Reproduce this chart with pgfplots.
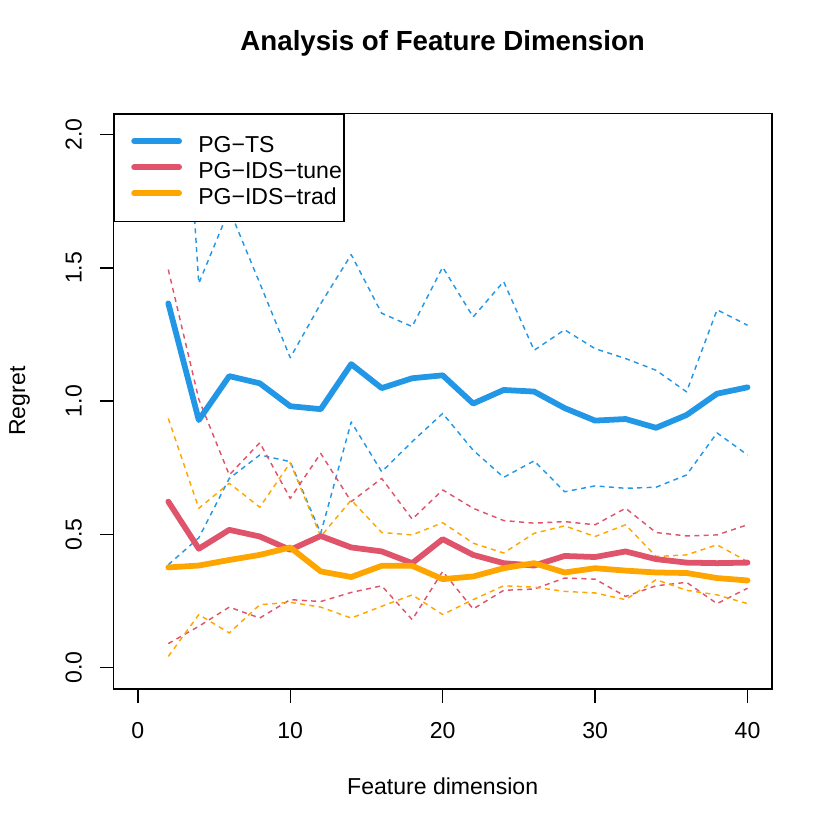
\documentclass[border=0pt]{standalone}
\usepackage{fontspec}
\setmainfont{Liberation Sans}
\usepackage{pgfplots}
\usepackage{pgfplotstable}
\pgfplotsset{compat=1.18}
\definecolor{cts}{HTML}{2297E6}
\definecolor{ctune}{HTML}{DF536B}
\definecolor{ctrad}{HTML}{FFA500}
\newcommand{\lgs}{\rule[-2.4bp]{0pt}{13.4bp}}
\pgfplotstableread{
x ts tsl tsu tune tunel tuneu trad tradl tradu
2 1.367 0.386 3.20 0.623 0.090 1.494 0.376 0.042 0.935
4 0.929 0.487 1.442 0.446 0.155 1.007 0.383 0.199 0.598
6 1.094 0.710 1.72 0.517 0.227 0.723 0.404 0.130 0.692
8 1.067 0.798 1.443 0.492 0.186 0.844 0.423 0.236 0.602
10 0.981 0.773 1.163 0.442 0.255 0.635 0.451 0.245 0.769
12 0.970 0.504 1.366 0.494 0.248 0.804 0.361 0.227 0.492
14 1.139 0.922 1.550 0.451 0.282 0.623 0.340 0.186 0.629
16 1.049 0.735 1.330 0.436 0.307 0.710 0.382 0.230 0.507
18 1.086 0.848 1.280 0.392 0.180 0.557 0.382 0.273 0.498
20 1.097 0.954 1.503 0.482 0.361 0.667 0.332 0.199 0.544
22 0.991 0.816 1.316 0.423 0.220 0.598 0.342 0.255 0.467
24 1.042 0.714 1.449 0.392 0.290 0.552 0.373 0.307 0.430
26 1.036 0.776 1.191 0.383 0.295 0.542 0.392 0.302 0.504
28 0.974 0.660 1.268 0.419 0.336 0.548 0.357 0.286 0.532
30 0.927 0.682 1.197 0.415 0.332 0.536 0.373 0.280 0.492
32 0.933 0.673 1.160 0.436 0.267 0.598 0.364 0.255 0.536
34 0.900 0.677 1.116 0.407 0.307 0.507 0.357 0.330 0.417
36 0.948 0.723 1.035 0.394 0.320 0.494 0.355 0.290 0.423
38 1.028 0.881 1.343 0.392 0.240 0.498 0.336 0.273 0.461
40 1.052 0.798 1.285 0.394 0.298 0.536 0.327 0.240 0.398
}\data
\begin{document}
\fontsize{12bp}{14.4bp}\selectfont
\begin{tikzpicture}
\useasboundingbox (0,0) rectangle (432bp,432bp);
\begin{axis}[
  at={(59.04bp,73.44bp)}, anchor=south west,
  scale only axis, width=342.72bp, height=299.52bp,
  xmin=-1.6, xmax=41.6, ymin=-0.08, ymax=2.08,
  xtick={0,10,20,30,40}, xticklabels={0,10,20,30,40},
  ytick={0,0.5,1,1.5,2}, yticklabels={0.0,0.5,1.0,1.5,2.0},
  xtick pos=bottom, ytick pos=left,
  tick align=outside, major tick length=7.2bp,
  every tick/.style={black, line width=0.75bp},
  axis line style={line width=0.75bp},
  tick label style={font=\fontsize{12bp}{14.4bp}\selectfont, inner sep=0pt},
  xticklabel style={anchor=base, yshift=-18.5bp},
  yticklabel style={xshift=-9.3bp, rotate=90, anchor=base},
  title={Analysis of Feature Dimension},
  title style={at={(axis description cs:0.5,1)}, anchor=base, yshift=26.9bp, inner sep=0pt, font=\bfseries\fontsize{14.4bp}{17bp}\selectfont},
  xlabel={Feature dimension},
  xlabel style={at={(axis description cs:0.5,0)}, anchor=base, yshift=-55.2bp, inner sep=0pt, font=\fontsize{12bp}{14.4bp}\selectfont},
  ylabel={Regret},
  ylabel style={at={(axis description cs:-0.13422,0.5)}, rotate=0, anchor=base, inner sep=0pt, font=\fontsize{12bp}{14.4bp}\selectfont},
  legend style={at={(axis description cs:0,1)}, anchor=north west, draw=black, line width=0.75bp, fill=white,
    inner xsep=1.2bp, inner ysep=7.0bp, row sep=-1.5bp, font=\fontsize{12bp}{14.4bp}\selectfont,
    nodes={inner sep=0pt}},
  legend cell align=left,
  legend image code/.code={\path[draw=none, fill=none] (0bp,0bp) rectangle (42.6bp,8.6bp); \draw[#1, line width=3bp] (9.2bp,1.5bp) -- (32.6bp,1.5bp);},
  dd/.style={line width=0.75bp, dash pattern=on 2.6bp off 2.3bp, line join=round, forget plot},
  mm/.style={line width=3bp, line cap=round, line join=round},
]
\addplot[cts, dd] table[x=x, y=tsl] {\data};
\addplot[cts, dd] table[x=x, y=tsu] {\data};
\addplot[ctune, dd] table[x=x, y=tunel] {\data};
\addplot[ctune, dd] table[x=x, y=tuneu] {\data};
\addplot[ctrad, dd] table[x=x, y=tradl] {\data};
\addplot[ctrad, dd] table[x=x, y=tradu] {\data};
\addplot[cts, mm] table[x=x, y=ts] {\data};
\addlegendentry{\lgs PG−TS}
\addplot[ctune, mm] table[x=x, y=tune] {\data};
\addlegendentry{\lgs PG−IDS−tune}
\addplot[ctrad, mm] table[x=x, y=trad] {\data};
\addlegendentry{\lgs PG−IDS−trad}
\end{axis}
\end{tikzpicture}
\end{document}
